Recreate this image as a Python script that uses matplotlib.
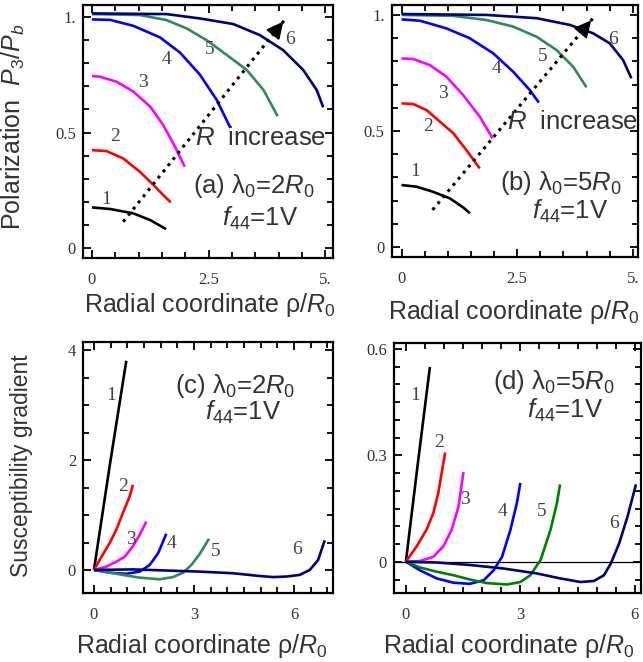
import numpy as np
import matplotlib
matplotlib.use('Agg')
import matplotlib.pyplot as plt
from matplotlib.ticker import MultipleLocator

plt.rcParams['mathtext.fontset'] = 'custom'
plt.rcParams['mathtext.rm'] = 'Liberation Sans'
plt.rcParams['mathtext.it'] = 'Liberation Sans:italic'
plt.rcParams['font.family'] = ['Liberation Sans', 'DejaVu Sans']

colors_ab = ['black', '#ff0000', '#ff00ff', '#0000ff', '#2e8b57', '#000080']
colors_c = ['black', '#ff0000', '#ff00ff', '#0000ff', '#2e8b57', '#000080']
colors_d = ['black', '#ff0000', '#ff00ff', '#0000ff', '#008000', '#000080']
curve_names = ['1', '2', '3', '4', '5', '6']

# panel (a): polarization, lambda0 = 2 R0
a_x = [
    [0, 0.39, 0.89, 1.25, 1.59],
    [0, 0.31, 0.67, 1.03, 1.32, 1.53, 1.69],
    [0, 0.17, 0.53, 0.89, 1.25, 1.53, 1.78, 1.99],
    [0, 0.39, 0.89, 1.46, 1.89, 2.31, 2.67, 2.97],
    [0, 1.03, 1.6, 2.03, 2.46, 2.89, 3.32, 3.68, 3.98],
    [0, 1.6, 2.32, 3.03, 3.6, 4.1, 4.53, 4.82, 4.96],
]
a_y = [
    [0.176, 0.169, 0.150, 0.121, 0.082],
    [0.424, 0.42, 0.388, 0.33, 0.273, 0.229, 0.198],
    [0.745, 0.742, 0.72, 0.677, 0.612, 0.532, 0.439, 0.352],
    [0.99, 0.988, 0.962, 0.912, 0.846, 0.752, 0.643, 0.52],
    [1.013, 1.009, 0.987, 0.951, 0.9, 0.836, 0.771, 0.684, 0.571],
    [1.016, 1.013, 0.994, 0.97, 0.922, 0.857, 0.771, 0.684, 0.609],
]
a_lab_x = [0.31, 0.49, 1.09, 1.6, 2.53, 4.24]
a_lab_y = [0.209, 0.484, 0.716, 0.817, 0.861, 0.904]
a_arrow = [(0.67, 0.114), (4.14, 0.99)]

# panel (b): polarization, lambda0 = 5 R0
b_x = [
    [0, 0.32, 0.68, 1.04, 1.33, 1.48],
    [0, 0.25, 0.54, 0.83, 1.12, 1.4, 1.69],
    [0, 0.25, 0.61, 0.97, 1.33, 1.69, 1.97],
    [0, 0.4, 0.97, 1.47, 1.98, 2.41, 2.77, 2.97],
    [0, 1.12, 1.84, 2.41, 2.92, 3.35, 3.71, 4.0],
    [0, 1.84, 2.92, 3.64, 4.14, 4.5, 4.79, 4.97],
]
b_y = [
    [0.267, 0.26, 0.238, 0.21, 0.171, 0.145],
    [0.619, 0.616, 0.59, 0.54, 0.49, 0.418, 0.339],
    [0.813, 0.81, 0.784, 0.734, 0.655, 0.562, 0.468],
    [0.981, 0.975, 0.942, 0.9, 0.835, 0.756, 0.677, 0.622],
    [1.0, 0.996, 0.978, 0.95, 0.906, 0.849, 0.777, 0.688],
    [1.004, 1.0, 0.986, 0.957, 0.921, 0.878, 0.806, 0.727],
]
b_lab_x = [0.29, 0.57, 0.9, 2.05, 3.05, 4.57]
b_lab_y = [0.325, 0.52, 0.66, 0.77, 0.82, 0.895]
b_arrow = [(0.67, 0.16), (4.14, 0.986)]

# panel (c): susceptibility gradient, lambda0 = 2 R0
c_x = [
    [0, 0.47, 0.97],
    [0, 0.17, 0.47, 0.67, 0.87, 1.07, 1.17],
    [0, 0.37, 0.67, 0.92, 1.17, 1.37, 1.57],
    [0, 0.47, 0.97, 1.37, 1.67, 1.92, 2.17],
    [0, 0.67, 1.37, 1.97, 2.37, 2.67, 2.92, 3.17, 3.45],
    [0, 1.17, 2.17, 3.17, 4.17, 4.97, 5.37, 5.77, 6.17, 6.47, 6.72, 6.92],
]
c_y = [
    [0, 1.89, 3.81],
    [0, 0.18, 0.49, 0.73, 1.04, 1.34, 1.55],
    [0, 0.06, 0.15, 0.24, 0.43, 0.64, 0.88],
    [0, -0.05, -0.07, -0.03, 0.09, 0.3, 0.66],
    [0, -0.07, -0.14, -0.17, -0.13, -0.05, 0.09, 0.29, 0.57],
    [0, 0.01, -0.01, -0.03, -0.06, -0.11, -0.13, -0.12, -0.09, 0, 0.18, 0.54],
]
c_lab_x = [0.53, 0.86, 1.1, 2.33, 3.66, 6.08]
c_lab_y = [3.17, 1.52, 0.55, 0.49, 0.33, 0.37]

# panel (d): susceptibility gradient, lambda0 = 5 R0
d_x = [
    [0, 0.31, 0.63],
    [0, 0.28, 0.54, 0.72, 0.85, 0.94, 1.03],
    [0, 0.37, 0.72, 0.98, 1.2, 1.38, 1.51],
    [0, 0.37, 0.81, 1.25, 1.68, 2.04, 2.3, 2.52, 2.74, 2.91, 3.0],
    [0, 0.37, 0.81, 1.25, 1.68, 2.12, 2.65, 3.0, 3.26, 3.53, 3.79, 3.96, 4.04],
    [0, 0.81, 1.68, 2.56, 3.44, 4.05, 4.58, 4.93, 5.19, 5.37, 5.59, 5.81, 6.03],
]
d_y = [
    [0, 0.274, 0.549],
    [0, 0.043, 0.09, 0.137, 0.194, 0.251, 0.308],
    [0, 0.002, 0.014, 0.043, 0.09, 0.156, 0.253],
    [0, -0.024, -0.047, -0.059, -0.062, -0.052, -0.024, 0.014, 0.09, 0.166, 0.222],
    [0, -0.016, -0.028, -0.038, -0.05, -0.06, -0.064, -0.057, -0.038, 0.005, 0.09, 0.166, 0.218],
    [0, -0.002, -0.009, -0.019, -0.033, -0.047, -0.057, -0.054, -0.038, -0.005, 0.052, 0.128, 0.218],
]
d_lab_x = [0.24, 0.88, 1.55, 2.52, 3.57, 5.46]
d_lab_y = [0.468, 0.336, 0.175, 0.142, 0.142, 0.109]

txt_color = '#333333'
serif = ['Liberation Serif', 'DejaVu Serif']
big = 18.5


def style(ax, xlim, ylim, xt, xtl, yt, ytl, xminor, yminor):
    ax.set_xlim(xlim)
    ax.set_ylim(ylim)
    ax.set_xticks(xt)
    ax.set_xticklabels(xtl, family=serif, fontsize=12, color=txt_color)
    ax.set_yticks(yt)
    ax.set_yticklabels(ytl, family=serif, fontsize=12, color=txt_color)
    ax.xaxis.set_minor_locator(MultipleLocator(xminor))
    ax.yaxis.set_minor_locator(MultipleLocator(yminor))
    ax.tick_params(which='both', direction='in', top=True, right=True, width=1.3)
    ax.tick_params(which='major', length=6)
    ax.tick_params(which='minor', length=4)
    ax.tick_params(axis='x', pad=10)
    ax.tick_params(axis='y', pad=5)
    for s in ax.spines.values():
        s.set_linewidth(1.6)


def curves(ax, xs, ys, cols, lx, ly):
    for i in range(6):
        ax.plot(xs[i], ys[i], color=cols[i], lw=1.9, solid_capstyle='butt')
        ax.text(lx[i], ly[i], curve_names[i], family=serif, fontsize=14,
                color='#444444', ha='center', va='center')


def arrow(ax, pts):
    (x0, y0), (x1, y1) = pts
    ax.plot([x0, x1], [y0, y1], color='black', lw=2.2, ls=(0, (1, 1.6)))
    dx, dy = x1 - x0, y1 - y0
    ax.annotate('', xy=(x1, y1), xytext=(x1 - 0.06 * dx, y1 - 0.06 * dy),
                arrowprops=dict(arrowstyle='-|>,head_length=1.0,head_width=0.5',
                                color='black', lw=1.5))


fig = plt.figure(figsize=(6.43, 6.62), dpi=100)
ax_a = fig.add_axes([0.129, 0.6103, 0.389, 0.382])
ax_b = fig.add_axes([0.609, 0.6118, 0.383, 0.3807])
ax_c = fig.add_axes([0.129, 0.1042, 0.389, 0.379])
ax_d = fig.add_axes([0.6128, 0.1042, 0.384, 0.378])

xlab = 'Radial coordinate ρ/$R_0$'

# (a)
style(ax_a, (-0.193, 5.17), (-0.043, 1.052), [0, 2.5, 5], ['0', '2.5', '5.'],
      [0, 0.5, 1], ['0', '0.5', '1.'], 0.5, 0.1)
curves(ax_a, a_x, a_y, colors_ab, a_lab_x, a_lab_y)
arrow(ax_a, a_arrow)
ax_a.text(2.21, 0.477, '$R$  increase', fontsize=big, color=txt_color, va='center')
ax_a.text(3.47, 0.267, '(a) λ$_0$=2$R_0$', fontsize=big, color=txt_color, ha='center', va='center')
ax_a.text(3.6, 0.13, '$f_{44}$=1V', fontsize=big, color=txt_color, ha='center', va='center')
ax_a.set_ylabel('Polarization  $P_3/P_b$', fontsize=18, color=txt_color)
ax_a.yaxis.set_label_coords(-0.224, 0.518)
ax_a.set_xlabel(xlab, fontsize=18, color=txt_color)
ax_a.xaxis.set_label_coords(0.508, -0.13)

# (b)
style(ax_b, (-0.216, 5.11), (-0.043, 1.043), [0, 2.5, 5], ['0', '2.5', '5.'],
      [0, 0.5, 1], ['0', '0.5', '1.'], 0.5, 0.1)
curves(ax_b, b_x, b_y, colors_ab, b_lab_x, b_lab_y)
arrow(ax_b, b_arrow)
ax_b.text(2.27, 0.54, '$R$  increase', fontsize=big, color=txt_color, va='center')
ax_b.text(3.44, 0.274, '(b) λ$_0$=5$R_0$', fontsize=big, color=txt_color, ha='center', va='center')
ax_b.text(3.64, 0.152, '$f_{44}$=1V', fontsize=big, color=txt_color, ha='center', va='center')
ax_b.set_xlabel(xlab, fontsize=18, color=txt_color)
ax_b.xaxis.set_label_coords(0.497, -0.163)

# (c)
style(ax_c, (-0.33, 7.17), (-0.42, 4.15), [0, 3, 6], ['0', '3', '6'],
      [0, 2, 4], ['0', '2', '4'], 0.5, 0.5)
curves(ax_c, c_x, c_y, colors_c, c_lab_x, c_lab_y)
ax_c.text(4.23, 3.35, '(c) λ$_0$=2$R_0$', fontsize=big, color=txt_color, ha='center', va='center')
ax_c.text(4.48, 2.87, '$f_{44}$=1V', fontsize=big, color=txt_color, ha='center', va='center')
ax_c.set_ylabel('Susceptibility gradient', fontsize=16.5, color=txt_color)
ax_c.yaxis.set_label_coords(-0.2, 0.506)
ax_c.set_xlabel(xlab, fontsize=18, color=txt_color)
ax_c.xaxis.set_label_coords(0.475, -0.155)

# (d)
style(ax_d, (-0.31, 6.16), (-0.088, 0.617), [0, 3, 6], ['0', '3', '6'],
      [0, 0.3, 0.6], ['0', '0.3', '0.6'], 0.5, 0.05)
ax_d.axhline(0, color='black', lw=0.9)
curves(ax_d, d_x, d_y, colors_d, d_lab_x, d_lab_y)
ax_d.text(3.88, 0.506, '(d) λ$_0$=5$R_0$', fontsize=big, color=txt_color, ha='center', va='center')
ax_d.text(4.18, 0.426, '$f_{44}$=1V', fontsize=big, color=txt_color, ha='center', va='center')
ax_d.set_xlabel(xlab, fontsize=18, color=txt_color)
ax_d.xaxis.set_label_coords(0.466, -0.155)

fig.savefig('out.png', dpi=100)
